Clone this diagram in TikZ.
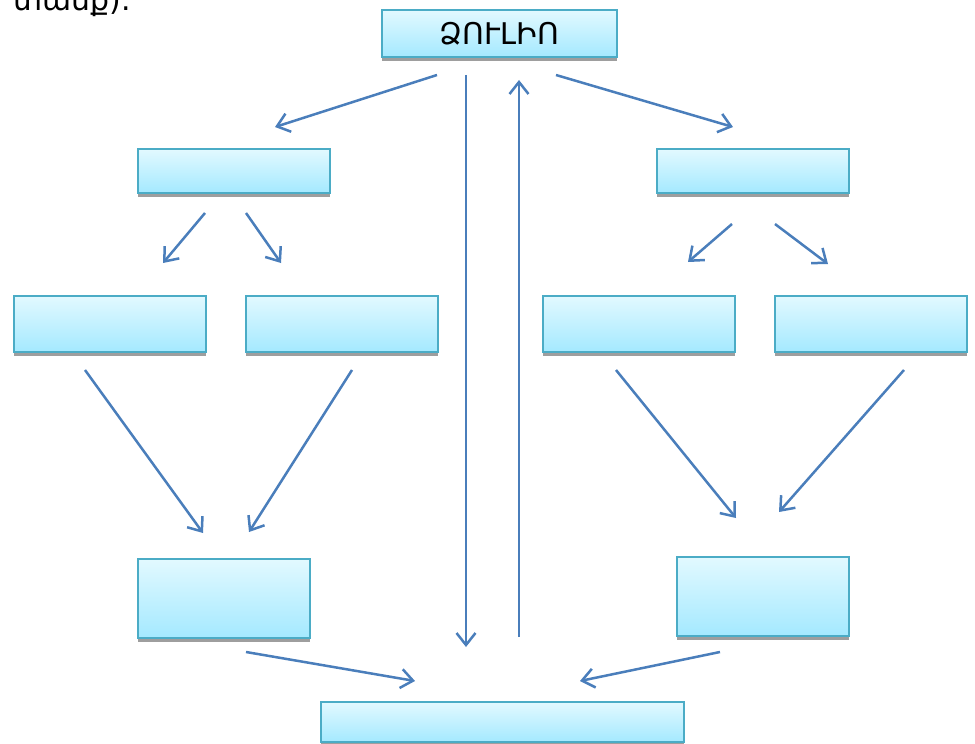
\documentclass[tikz,border=0pt]{standalone}
\usepackage{fontspec}
\setmainfont{DejaVu Sans}
\usepackage{tikz}
\usetikzlibrary{arrows.meta,
                calc,
                shadows}
\definecolor{boxtop}{RGB}{226,249,255}
\definecolor{boxbot}{RGB}{164,233,255}
\definecolor{boxline}{RGB}{75,172,198}
\definecolor{arrblue}{RGB}{74,126,187}
\tikzset{
  blk/.style={draw=boxline, line width=0.45mm, top color=boxtop, bottom color=boxbot,
              inner sep=0pt, outer sep=0pt,
              drop shadow={shadow xshift=0mm, shadow yshift=-0.8mm, fill=black!38, opacity=1}},
  midblk/.style={blk, minimum width=38.4mm, minimum height=8.8mm},
  rowblk/.style={blk, minimum width=38.4mm, minimum height=11.2mm},
  lowblk/.style={blk, minimum width=34.4mm, minimum height=15.8mm},
  arr/.style={draw=arrblue, line width=0.5mm, -{Straight Barb[length=2.4mm,width=3.8mm]}}
}

\begin{document}
\begin{tikzpicture}[x=0.02cm,y=-0.02cm]
\useasboundingbox (0,0) rectangle (975,744);

% cut-off text at the top
\node[anchor=base west, inner sep=0pt] (frag) at (13,10) {\fontsize{17}{20}\selectfont տանք).};

% boxes
\node[blk, minimum width=47mm, minimum height=9.4mm] (zul) at (499.5,33.5)
     {\fontsize{17}{20}\selectfont ՁՈՒԼԻՈ};
\node[midblk] (lm) at (234,171) {};
\node[midblk] (rm) at (753,171) {};
\foreach \n/\x in {a/110,b/342,c/639,d/871}
  \node[rowblk] (\n) at (\x,324) {};
\node[lowblk] (lb) at (224,598.5) {};
\node[lowblk] (rb) at (763,596.5) {};
\node[blk, minimum width=72.6mm, minimum height=8mm] (bot) at (502.5,722) {};

% arrows
\foreach \s/\so/\e/\eo in {zul.south/{-62.5,18}/lm.north/{41,-22},
                           zul.south/{56.5,18}/rm.north/{-20,-22},
                           zul.south/{-33.5,18}/bot.north/{-36.5,-55},
                           bot.north/{16.5,-65}/zul.south/{19.5,23},
                           lm.south/{-29,20}/a.north/{53,-33},
                           lm.south/{12,20}/b.north/{-61,-33},
                           rm.south/{-21,31}/c.north/{49,-34},
                           rm.south/{22,31}/d.north/{-43,-32},
                           a.south/{-25,18}/lb.north/{-21,-26},
                           b.south/{10,18}/lb.north/{25,-27},
                           c.south/{-23,18}/rb.north/{-27,-39},
                           d.south/{33,18}/rb.north/{16,-45},
                           lb.south/{22,14}/bot.north/{-87.5,-21},
                           rb.south/{-43,16}/bot.north/{77.5,-21}}
  \draw[arr] ($(\s)+(\so)$) -- ($(\e)+(\eo)$);
\end{tikzpicture}
\end{document}
